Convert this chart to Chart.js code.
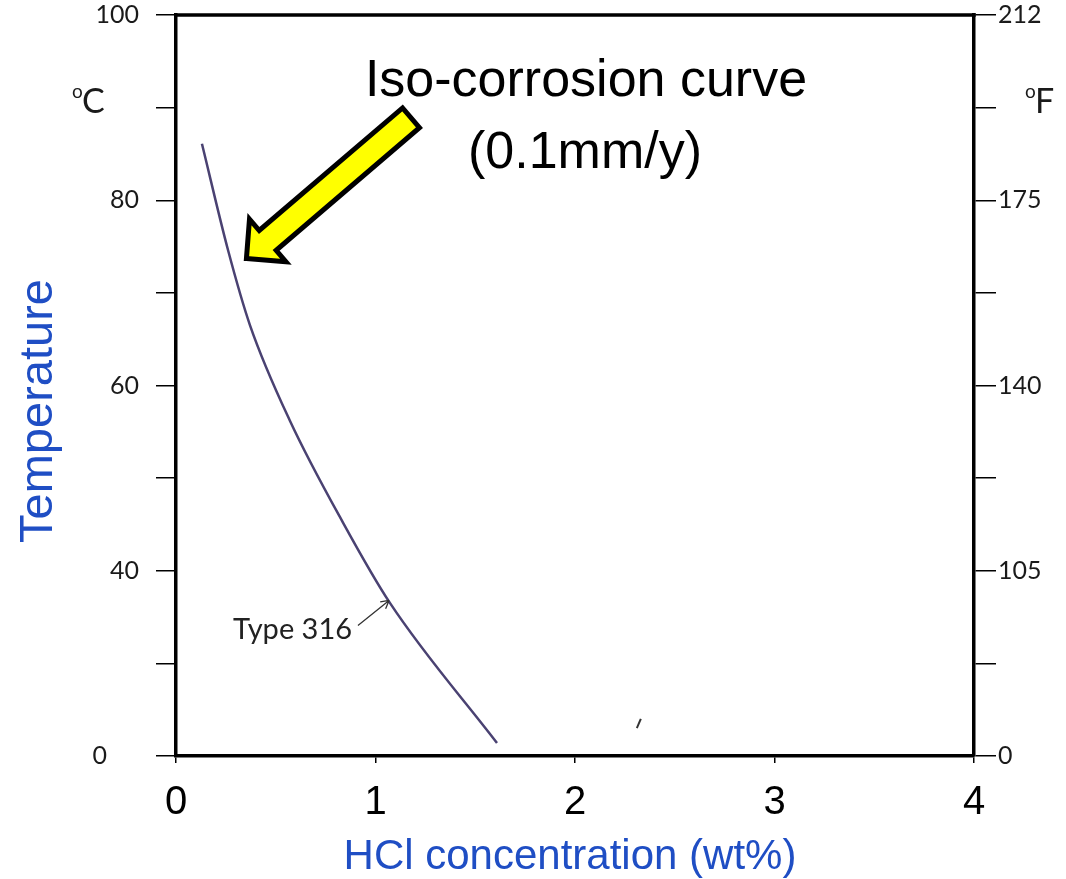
<!DOCTYPE html>
<html>
<head>
<meta charset="utf-8">
<script src="https://cdn.jsdelivr.net/npm/chart.js@4.4.1/dist/chart.umd.min.js"></script>
<style>
  html, body { margin: 0; padding: 0; background: #fff; }
  #wrap { width: 1066px; height: 879px; }
</style>
</head>
<body>
<div id="wrap"><canvas id="chart" width="1066" height="879"></canvas></div>
<script>
/* global Chart */

// Type 316 iso-corrosion curve (0.1 mm/y)
const hclConc = [0.130, 0.261, 0.371, 0.571, 0.837, 1.073, 1.609];
const tempC = [86.1, 74.6, 66.5, 56.2, 45.2, 36.5, 21.4];

// labelled ticks on the two temperature axes (the bottom one is printed as 0)
const tempTicks = [20, 40, 60, 80, 100];
const celsiusLabels = ['0', '40', '60', '80', '100'];
const fahrenheitLabels = ['0', '105', '140', '175', '212'];

const BLUE = '#1f4ec4';
const CURVE = '#4a4272';
const SANS = "'Liberation Sans', Arial, sans-serif";
const TICK_FONT = { family: 'Lato', size: 25 };

function tickLabel(labels) {
    return function (value) {
        const i = tempTicks.indexOf(value);
        return i < 0 ? '' : labels[i];
    };
}

function drawArrow(ctx, tip, tail) {
    const dx = tail.x - tip.x, dy = tail.y - tip.y;
    const len = Math.hypot(dx, dy);
    const ux = dx / len, uy = dy / len;
    const nx = -uy, ny = ux;
    const headLen = 28, headHalf = 28, shaftHalf = 13;
    const bx = tip.x + ux * headLen, by = tip.y + uy * headLen;
    const pts = [
        [tip.x, tip.y],
        [bx + nx * headHalf, by + ny * headHalf],
        [bx + nx * shaftHalf, by + ny * shaftHalf],
        [tail.x + nx * shaftHalf, tail.y + ny * shaftHalf],
        [tail.x - nx * shaftHalf, tail.y - ny * shaftHalf],
        [bx - nx * shaftHalf, by - ny * shaftHalf],
        [bx - nx * headHalf, by - ny * headHalf]
    ];
    ctx.beginPath();
    pts.forEach((p, i) => (i ? ctx.lineTo(p[0], p[1]) : ctx.moveTo(p[0], p[1])));
    ctx.closePath();
    ctx.fillStyle = '#ffff00';
    ctx.fill();
    ctx.lineWidth = 5;
    ctx.lineJoin = 'miter';
    ctx.strokeStyle = '#000';
    ctx.stroke();
}

function drawDegree(ctx, unit, x, baseline) {
    ctx.fillStyle = '#1a1a1a';
    ctx.textAlign = 'left';
    ctx.textBaseline = 'alphabetic';
    ctx.font = "19px Lato";
    ctx.fillText('o', x, baseline - 15);
    ctx.font = "34px Lato";
    ctx.fillText(unit, x + 10, baseline);
}

const notes = {
    id: 'notes',
    afterDraw(chart) {
        const { ctx, chartArea: area, scales: { x, y } } = chart;
        const px = (vx, vy) => ({ x: x.getPixelForValue(vx), y: y.getPixelForValue(vy) });
        ctx.save();

        // top edge of the frame
        ctx.strokeStyle = '#000';
        ctx.lineWidth = 3.5;
        ctx.beginPath();
        ctx.moveTo(area.left - 1.75, area.top);
        ctx.lineTo(area.right + 1.75, area.top);
        ctx.stroke();

        // axis titles
        ctx.fillStyle = BLUE;
        ctx.textAlign = 'center';
        ctx.textBaseline = 'alphabetic';
        ctx.font = '42px ' + SANS;
        ctx.fillText('HCl concentration (wt%)', 570, 869);
        ctx.save();
        ctx.translate(52, 411);
        ctx.rotate(-Math.PI / 2);
        ctx.font = '47px ' + SANS;
        ctx.fillText('Temperature', 0, 0);
        ctx.restore();

        // unit marks
        drawDegree(ctx, 'C', 72, 113);
        drawDegree(ctx, 'F', 1025, 113);

        // callout
        ctx.fillStyle = '#000';
        ctx.textAlign = 'center';
        ctx.font = '52px ' + SANS;
        ctx.fillText('Iso-corrosion curve', 586, 96);
        ctx.fillText('(0.1mm/y)', 585, 168);
        drawArrow(ctx, px(0.353, 73.7), px(1.178, 88.9));

        // curve label with its small pointer
        ctx.fillStyle = '#222';
        ctx.textAlign = 'left';
        ctx.font = '29px Lato';
        const lab = px(0.286, 32.6);
        ctx.fillText('Type 316', lab.x, lab.y);
        const a0 = px(0.912, 34.1), a1 = px(1.068, 36.8);
        const ang = Math.atan2(a1.y - a0.y, a1.x - a0.x);
        ctx.strokeStyle = '#333';
        ctx.lineWidth = 1.3;
        ctx.beginPath();
        ctx.moveTo(a0.x, a0.y);
        ctx.lineTo(a1.x, a1.y);
        [-0.5, 0.5].forEach((d) => {
            ctx.moveTo(a1.x, a1.y);
            ctx.lineTo(a1.x - 9 * Math.cos(ang + d), a1.y - 9 * Math.sin(ang + d));
        });
        ctx.stroke();

        // small stray stroke near the axis
        const s0 = px(2.31, 23.0), s1 = px(2.33, 24.0);
        ctx.strokeStyle = '#333';
        ctx.lineWidth = 2;
        ctx.beginPath();
        ctx.moveTo(s0.x, s0.y);
        ctx.lineTo(s1.x, s1.y);
        ctx.stroke();

        ctx.restore();
    }
};

const ctx = document.getElementById('chart').getContext('2d');

new Chart(ctx, {
    type: 'scatter',
    data: {
        datasets: [{
            label: 'Type 316',
            data: hclConc.map((c, i) => ({ x: c, y: tempC[i] })),
            showLine: true,
            borderColor: CURVE,
            borderWidth: 2.5,
            pointRadius: 0,
            cubicInterpolationMode: 'monotone',
            xAxisID: 'x',
            yAxisID: 'y'
        }]
    },
    options: {
        responsive: false,
        animation: false,
        layout: { padding: { top: 15, left: 0, right: 0, bottom: 0 } },
        plugins: {
            legend: { display: false },
            tooltip: { enabled: false }
        },
        scales: {
            x: {
                type: 'linear',
                position: 'bottom',
                min: 0,
                max: 4,
                ticks: { stepSize: 1, color: '#000', padding: 16, font: { family: SANS, size: 40 } },
                grid: { drawOnChartArea: false, tickLength: 7, color: '#000', lineWidth: 1.5 },
                border: { color: '#000', width: 3.5 },
                afterFit(s) { s.height = 123; }
            },
            y: {
                type: 'linear',
                position: 'left',
                min: 20,
                max: 100,
                ticks: {
                    stepSize: 10,
                    color: '#1a1a1a',
                    padding: 17,
                    font: TICK_FONT,
                    callback: function (v) {
                        const t = tickLabel(celsiusLabels)(v);
                        return v === 20 ? t + '     ' : t;
                    }
                },
                grid: { drawOnChartArea: false, tickLength: 20, color: '#000', lineWidth: 1.5 },
                border: { color: '#000', width: 3.5 },
                afterFit(s) { s.width = 176; s.paddingTop = 0; s.paddingBottom = 0; }
            },
            y2: {
                type: 'linear',
                position: 'right',
                min: 20,
                max: 100,
                ticks: {
                    stepSize: 10,
                    color: '#1a1a1a',
                    padding: 2,
                    font: TICK_FONT,
                    callback: tickLabel(fahrenheitLabels)
                },
                grid: { drawOnChartArea: false, tickLength: 22, color: '#000', lineWidth: 1.5 },
                border: { color: '#000', width: 3.5 },
                afterFit(s) { s.width = 92; s.paddingTop = 0; s.paddingBottom = 0; }
            }
        }
    },
    plugins: [notes]
});
</script>
</body>
</html>
